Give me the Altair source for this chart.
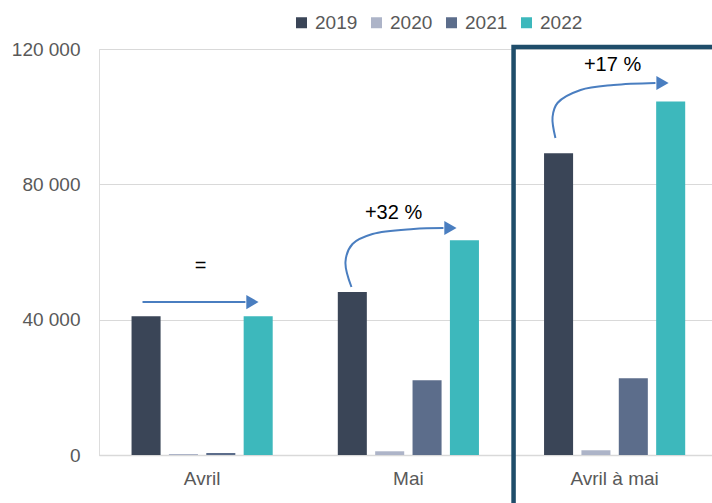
import altair as alt
import pandas as pd

# ---- data ----
categories = ["Avril", "Mai", "Avril à mai"]
years = ["2019", "2020", "2021", "2022"]
v2019 = [41000, 48200, 89200]
v2020 = [300, 1100, 1400]
v2021 = [600, 22100, 22700]
v2022 = [41000, 63500, 104500]
colors = ["#3A4557", "#ADB4C8", "#5C6D8B", "#3DB8BC"]

# annotation labels (position in category units 0..3, value units)
ann_text = ["=", "+32 %", "+17 %"]
ann_x = [0.492, 1.428, 2.490]
ann_y = [55900, 71500, 115300]

# arrow paths (category units, value units)
arrow_id = [0, 0, 1, 1, 1, 1, 1, 1, 2, 2, 2, 2, 2, 2]
arrow_x = [0.211, 0.710,
           1.224, 1.195, 1.229, 1.326, 1.525, 1.670,
           2.213, 2.199, 2.223, 2.335, 2.495, 2.698]
arrow_y = [45200, 45200,
           49660, 57050, 62370, 65320, 66800, 67090,
           93700, 99900, 104040, 107880, 109360, 109950]
head_x = [0.744, 1.704, 2.732]
head_y = [45200, 67090, 109950]

# highlight box around "Avril à mai"
box_x = [2.010]
box_x2 = [3.2]
box_y = [120600]
box_y2 = [-25000]

rows = []
for i, c in enumerate(categories):
    for y, vals in zip(years, [v2019, v2020, v2021, v2022]):
        rows.append({"cat": c, "year": y, "value": vals[i]})
df_bars = pd.DataFrame(rows)
df_arrows = pd.DataFrame({"arrow": arrow_id, "d": arrow_x, "v": arrow_y,
                          "i": list(range(len(arrow_x)))})
df_heads = pd.DataFrame({"d": head_x, "v": head_y})
df_text = pd.DataFrame({"d": ann_x, "v": ann_y, "t": ann_text})
df_box = pd.DataFrame({"x": box_x, "x2": box_x2, "y": box_y, "y2": box_y2})

FONT = "Liberation Sans"
GREY = "#595959"
ARROW = "#4A7EC0"
PLOT_RANGE = [0, 618.75]

yscale = alt.Scale(domain=[0, 120000], nice=False)
qx = alt.Scale(domain=[0, 3], range=PLOT_RANGE)

bars = alt.Chart(df_bars).mark_bar().encode(
    x=alt.X("cat:N", sort=categories, title=None,
            scale=alt.Scale(range=PLOT_RANGE, paddingInner=0, paddingOuter=0),
            axis=alt.Axis(labelAngle=0, ticks=False, domainColor="#D9D9D9",
                          domainWidth=1.5, labelPadding=14, grid=False,
                          labelFont=FONT, labelFontSize=19, labelColor=GREY)),
    xOffset=alt.XOffset("year:N", sort=years,
                        scale=alt.Scale(paddingInner=0.223, paddingOuter=0.871)),
    y=alt.Y("value:Q", scale=yscale, title=None,
            axis=alt.Axis(values=[0, 40000, 80000, 120000], grid=True,
                          gridColor="#D9D9D9", ticks=False, domain=False,
                          labelPadding=19, labelFont=FONT, labelFontSize=19,
                          labelColor=GREY,
                          labelExpr="replace(format(datum.value, ','), ',', ' ')")),
    color=alt.Color("year:N", sort=years,
                    scale=alt.Scale(domain=years, range=colors),
                    legend=alt.Legend(orient="none", legendX=193, legendY=-36,
                                      direction="horizontal", title=None,
                                      symbolType="square", symbolSize=121,
                                      symbolStrokeWidth=0, labelFontSize=19,
                                      labelColor=GREY, labelFont=FONT,
                                      labelOffset=4, columnPadding=9,
                                      padding=0)),
)

box = alt.Chart(df_box).mark_rect(fillOpacity=0, stroke="#1F4D6A",
                                  strokeWidth=4.5).encode(
    x=alt.X("x:Q", scale=qx, axis=None),
    x2="x2:Q",
    y=alt.Y("y:Q", scale=yscale),
    y2="y2:Q",
)

arrows = alt.Chart(df_arrows).mark_line(interpolate="catmull-rom", color=ARROW,
                                        strokeWidth=2).encode(
    x=alt.X("d:Q", scale=qx, axis=None),
    y=alt.Y("v:Q", scale=yscale),
    detail="arrow:N",
    order="i:Q",
)

heads = alt.Chart(df_heads).mark_point(shape="triangle-right", filled=True,
                                       size=200, color=ARROW, opacity=1).encode(
    x=alt.X("d:Q", scale=qx, axis=None),
    y=alt.Y("v:Q", scale=yscale),
)

texts = alt.Chart(df_text).mark_text(fontSize=20, color="black", font=FONT,
                                     align="center", baseline="middle").encode(
    x=alt.X("d:Q", scale=qx, axis=None),
    y=alt.Y("v:Q", scale=yscale),
    text="t:N",
)

chart = alt.layer(bars, box, arrows, heads, texts).resolve_scale(
    x="independent"
).properties(
    width=613, height=406,
    padding={"left": 99, "top": 49, "right": 0, "bottom": 48},
    autosize=alt.AutoSizeParams(type="none"),
).configure_view(stroke=None).configure(background="white")

chart.save("out.html", embed_options={"renderer": "svg", "actions": False})
